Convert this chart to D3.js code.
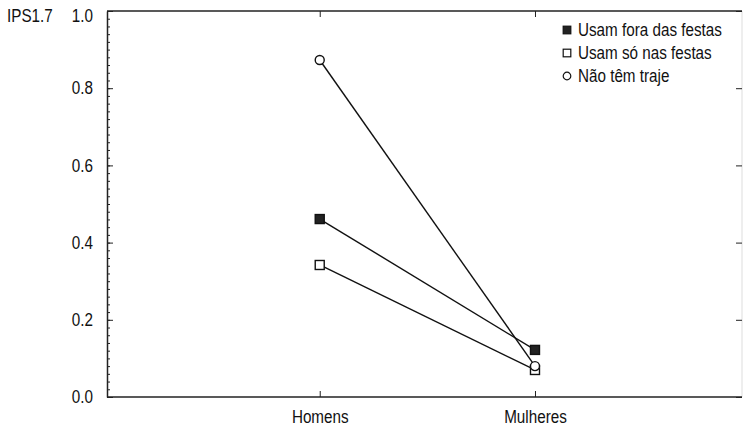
<!DOCTYPE html>
<html>
<head>
<meta charset="utf-8">
<script src="https://cdn.jsdelivr.net/npm/d3@7"></script>
<style>
  body { margin: 0; background: #fff; }
  text { font-family: "Liberation Sans", Arial, sans-serif; fill: #111; }
  .axis path, .axis line { stroke: #222; }
</style>
</head>
<body>
<div id="chart"></div>
<script>
var margin = { top: 11, right: 1, bottom: 33, left: 107 },
    width = 743 - margin.left - margin.right,
    height = 430 - margin.top - margin.bottom;

// data
var categories = ['Homens', 'Mulheres'];
var seriesNames = ['Usam fora das festas', 'Usam só nas festas', 'Não têm traje'];
var seriesShapes = ['filled', 'square', 'circle'];
var foraDasFestas = [0.461, 0.122];
var soNasFestas = [0.342, 0.07];
var naoTemTraje = [0.873, 0.08];
var yTicks = [0.0, 0.2, 0.4, 0.6, 0.8, 1.0];
var yLabel = 'IPS1.7';

var fontSize = '17.5px';

var series = [foraDasFestas, soNasFestas, naoTemTraje].map((vals, i) => ({
    name: seriesNames[i],
    shape: seriesShapes[i],
    values: vals.map((v, j) => ({ cat: categories[j], value: v }))
}));

var x = d3.scalePoint()
    .domain(categories)
    .range([width * 0.335, width * 0.674]);

var y = d3.scaleLinear()
    .domain([0, 1])
    .range([height, 0]);

var minorTicks = d3.range(0, 1.0001, 0.02);

var svg = d3.select('#chart')
    .append('svg')
    .attr('width', width + margin.left + margin.right)
    .attr('height', height + margin.top + margin.bottom);

var plot = svg.append('g')
    .attr('transform', `translate(${margin.left}, ${margin.top})`);

// frame: top and right edges
plot.append('line')
    .attr('x1', 0).attr('x2', width)
    .attr('y1', 0).attr('y2', 0)
    .attr('stroke', '#222').attr('stroke-width', 1.5);
plot.append('line')
    .attr('x1', width).attr('x2', width)
    .attr('y1', 0).attr('y2', height)
    .attr('stroke', '#ddd').attr('stroke-width', 1);

// left axis, minor ticks then major
plot.append('g')
    .attr('class', 'axis')
    .call(d3.axisRight(y).tickValues(minorTicks).tickSize(3).tickFormat(''))
    .call(g => g.select('.domain').remove());

var yAxis = plot.append('g')
    .attr('class', 'axis y')
    .call(d3.axisLeft(y).tickValues(yTicks).tickSizeInner(-6).tickSizeOuter(0).tickPadding(14)
        .tickFormat(d3.format('.1f')));
yAxis.select('.domain').attr('stroke-width', 1.5);
yAxis.selectAll('text').style('font-size', fontSize);
yAxis.selectAll('.tick').filter(d => d === 1).select('text').attr('dy', '0.62em');

// right axis ticks
plot.append('g')
    .attr('class', 'axis')
    .attr('transform', `translate(${width}, 0)`)
    .call(d3.axisLeft(y).tickValues(yTicks).tickSize(6).tickFormat(''))
    .call(g => g.select('.domain').remove());

// top ticks at categories
plot.append('g')
    .attr('class', 'axis')
    .call(d3.axisBottom(x).tickSize(6).tickFormat(''))
    .call(g => g.select('.domain').remove());

// bottom axis
var xAxis = plot.append('g')
    .attr('class', 'axis x')
    .attr('transform', `translate(0, ${height})`)
    .call(d3.axisBottom(x).tickSizeInner(-6).tickSizeOuter(0).tickPadding(14));
xAxis.select('.domain')
    .attr('d', `M0,0H${width}`)
    .attr('stroke-width', 1.5);
xAxis.selectAll('text').style('font-size', fontSize);

// y label
svg.append('text')
    .attr('x', 7)
    .attr('y', 16)
    .attr('dy', '0.35em')
    .style('font-size', fontSize)
    .text(yLabel);

// lines
var line = d3.line()
    .x(d => x(d.cat))
    .y(d => y(d.value));

plot.append('g')
    .selectAll('path')
    .data(series)
    .enter()
    .append('path')
    .attr('d', d => line(d.values))
    .attr('fill', 'none')
    .attr('stroke', '#111')
    .attr('stroke-width', 1.4);

function drawMarker(sel, shape) {
    if (shape === 'circle') {
        sel.append('circle')
            .attr('r', 4.5)
            .attr('fill', '#fff')
            .attr('stroke', '#111')
            .attr('stroke-width', 1.4);
    } else {
        sel.append('rect')
            .attr('x', -4.5).attr('y', -4.5)
            .attr('width', 9).attr('height', 9)
            .attr('fill', shape === 'filled' ? '#222' : '#fff')
            .attr('stroke', '#111')
            .attr('stroke-width', 1.4);
    }
}

series.forEach(s => {
    plot.append('g')
        .selectAll('g')
        .data(s.values)
        .enter()
        .append('g')
        .attr('transform', d => `translate(${x(d.cat)}, ${y(d.value)})`)
        .call(drawMarker, s.shape);
});

// legend
var legend = svg.append('g')
    .attr('transform', 'translate(567, 30)');

var items = legend.selectAll('.item')
    .data(series)
    .enter()
    .append('g')
    .attr('class', 'item')
    .attr('transform', (d, i) => `translate(0, ${i * 23})`);

items.each(function (d) {
    var g = d3.select(this);
    if (d.shape === 'circle') {
        g.append('circle').attr('r', 3.8).attr('fill', '#fff').attr('stroke', '#111').attr('stroke-width', 1.2);
    } else {
        g.append('rect')
            .attr('x', -3.8).attr('y', -3.8).attr('width', 7.6).attr('height', 7.6)
            .attr('fill', d.shape === 'filled' ? '#222' : '#fff')
            .attr('stroke', '#111').attr('stroke-width', 1.2);
    }
});

items.append('text')
    .attr('x', 11)
    .attr('dy', '0.35em')
    .style('font-size', fontSize)
    .text(d => d.name);

// squeeze every label a little, the original type is a condensed face
svg.selectAll('text').each(function () {
    var len = this.getComputedTextLength();
    d3.select(this)
        .attr('textLength', (len * 0.87).toFixed(1))
        .attr('lengthAdjust', 'spacingAndGlyphs');
});
</script>
</body>
</html>
